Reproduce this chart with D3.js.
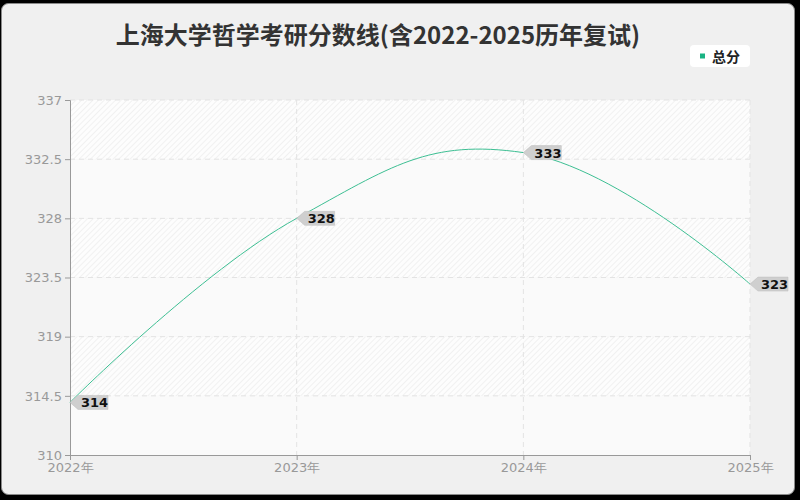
<!DOCTYPE html>
<html>
<meta charset="utf-8">
<head>
    <title>上海大学哲学考研分数线</title>
    <style>
    body {
        margin: 0;
        padding: 0;
        background: #000;
        font-family: "Noto Sans CJK SC", "Noto Sans", sans-serif;
    }
    svg { display: block; }
    </style>
<script src="https://d3js.org/d3.v7.min.js"></script>
</head>
<body>
<svg></svg>
<script>

// data
var years = ["2022年", "2023年", "2024年", "2025年"];
var scores = [314, 328, 333, 323];
var yTicks = [310, 314.5, 319, 323.5, 328, 332.5, 337];
var seriesName = "总分";
var title = "上海大学哲学考研分数线(含2022-2025历年复试)";

var width = 800, height = 500;
var plotLeft = 70, plotRight = 750, plotTop = 100, plotBottom = 455;
var lineColor = "#3dbf93";

var svg = d3.select("svg")
    .attr("width", width)
    .attr("height", height);

// hatch pattern for alternate bands
var defs = svg.append("defs");
var pat = defs.append("pattern")
    .attr("id", "hatch")
    .attr("patternUnits", "userSpaceOnUse")
    .attr("width", 4)
    .attr("height", 4)
    .attr("patternTransform", "rotate(45)");
pat.append("rect").attr("width", 4).attr("height", 4).attr("fill", "#fdfdfd");
pat.append("line")
    .attr("x1", 0).attr("y1", 0).attr("x2", 0).attr("y2", 4)
    .attr("stroke", "#ebebeb").attr("stroke-width", 1.3);

// outer frame
svg.append("rect")
    .attr("x", 1.5).attr("y", 3.5)
    .attr("width", 793).attr("height", 491)
    .attr("rx", 7)
    .attr("fill", "#f0f0f0")
    .attr("stroke", "#8a8a8a")
    .attr("stroke-width", 1);

var x = d3.scalePoint()
    .domain(years)
    .range([plotLeft, plotRight]);

var y = d3.scaleLinear()
    .domain([310, 337])
    .range([plotBottom, plotTop]);

// background bands
var bands = d3.pairs(yTicks);
svg.append("g")
    .selectAll("rect")
    .data(bands)
    .enter().append("rect")
    .attr("x", plotLeft)
    .attr("width", plotRight - plotLeft)
    .attr("y", d => y(d[1]))
    .attr("height", d => y(d[0]) - y(d[1]))
    .attr("fill", (d, i) => (bands.length - 1 - i) % 2 == 0 ? "url(#hatch)" : "#fafafa");

// grid
svg.append("g")
    .selectAll("line")
    .data(yTicks.slice(1))
    .enter().append("line")
    .attr("x1", plotLeft).attr("x2", plotRight)
    .attr("y1", d => y(d)).attr("y2", d => y(d))
    .attr("stroke", "#e3e3e3")
    .attr("stroke-dasharray", "5,4");

svg.append("g")
    .selectAll("line")
    .data(years.slice(1))
    .enter().append("line")
    .attr("x1", d => x(d)).attr("x2", d => x(d))
    .attr("y1", plotTop).attr("y2", plotBottom)
    .attr("stroke", "#e3e3e3")
    .attr("stroke-dasharray", "5,4");

// axes
var yAxis = svg.append("g")
    .attr("transform", "translate(" + plotLeft + ",0)")
    .call(d3.axisLeft(y).tickValues(yTicks).tickSize(5).tickPadding(3).tickFormat(d => d));
var xAxis = svg.append("g")
    .attr("transform", "translate(0," + plotBottom + ")")
    .call(d3.axisBottom(x).tickSize(5).tickPadding(3));

[yAxis, xAxis].forEach(a => {
    a.select(".domain").attr("stroke", "#999");
    a.selectAll(".tick line").attr("stroke", "#999");
    a.selectAll(".tick text")
        .attr("fill", "#999")
        .attr("font-size", 13)
        .attr("font-family", "\"DejaVu Sans\", sans-serif");
});

// line
var line = d3.line()
    .x((d, i) => x(years[i]))
    .y(d => y(d))
    .curve(d3.curveCardinal.tension(-0.25));

svg.append("path")
    .datum(scores)
    .attr("d", line)
    .attr("fill", "none")
    .attr("stroke", lineColor)
    .attr("stroke-width", 1);

// value tags
var tags = svg.append("g")
    .selectAll("g")
    .data(scores)
    .enter().append("g")
    .attr("transform", (d, i) => "translate(" + x(years[i]) + "," + y(d) + ")");

tags.append("path")
    .attr("d", "M0,0 L8,-7 L38,-7 L38,7 L8,7 Z")
    .attr("fill", "#cfcfcf")
    .attr("stroke", "#bdbdbd")
    .attr("stroke-width", 0.5);

tags.append("text")
    .attr("x", 11)
    .attr("y", 5)
    .attr("font-size", 13)
    .attr("font-weight", "bold")
    .attr("font-family", "\"DejaVu Sans\", sans-serif")
    .attr("fill", "#111")
    .text(d => d);

// title
svg.append("text")
    .attr("x", 378)
    .attr("y", 44)
    .attr("text-anchor", "middle")
    .attr("font-size", 24)
    .attr("font-weight", "bold")
    .attr("fill", "#333")
    .text(title);

// legend
var lg = svg.append("g").attr("transform", "translate(690,45)");
lg.append("rect")
    .attr("width", 60).attr("height", 22)
    .attr("rx", 4)
    .attr("fill", "#fff");
lg.append("rect")
    .attr("x", 10).attr("y", 8.5)
    .attr("width", 5).attr("height", 5)
    .attr("fill", "#19b383");
lg.append("text")
    .attr("x", 22).attr("y", 16.5)
    .attr("font-size", 14)
    .attr("font-weight", "bold")
    .attr("fill", "#222")
    .text(seriesName);

</script>
</body>
</html>
